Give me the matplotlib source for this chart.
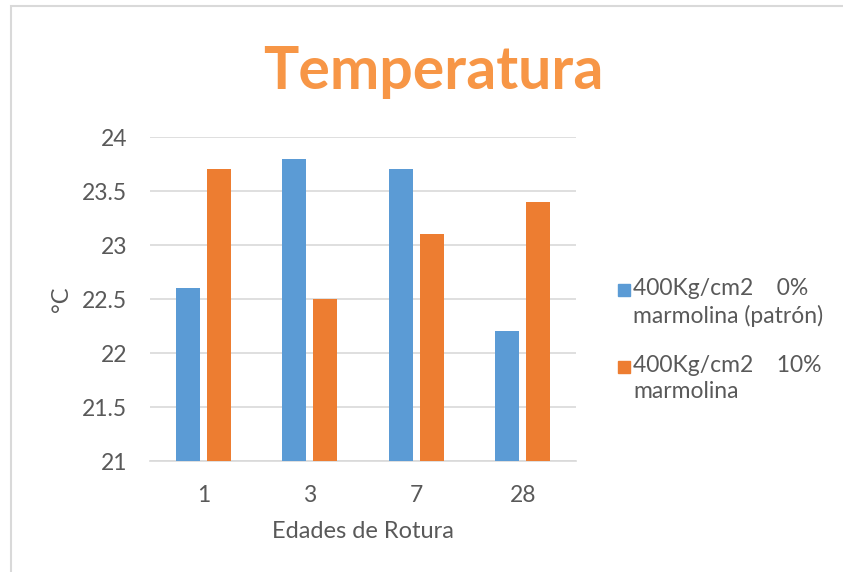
import matplotlib
matplotlib.use("Agg")
import matplotlib.pyplot as plt
import numpy as np
from matplotlib.patches import Rectangle

plt.rcParams['font.family'] = ['Lato', 'DejaVu Sans']

# data
edades = ["1", "3", "7", "28"]
patron = [22.6, 23.8, 23.7, 22.2]
marmolina10 = [23.7, 22.5, 23.1, 23.4]
serie_labels = ["400Kg/cm2    0%\nmarmolina (patrón)", "400Kg/cm2    10%\nmarmolina"]
yticks = [21, 21.5, 22, 22.5, 23, 23.5, 24]

c_blue = "#5B9BD5"
c_orange = "#ED7D31"
c_text = "#595959"
c_grid = "#D9D9D9"

W, H = 843, 572
fig = plt.figure(figsize=(W/100, H/100), dpi=100)

# chart frame
fig.add_artist(Rectangle((11/W, -0.05), 1.2, 1 - 6/H + 0.05, transform=fig.transFigure,
                         fill=False, ec=c_grid, lw=1.5))

ax = fig.add_axes([150/W, 1 - 461/H, (576-150)/W, (461-137)/H])
x = np.arange(len(edades))
w = 0.225
ax.bar(x - 0.145, np.array(patron) - 21, w, bottom=21, color=c_blue, zorder=3)
ax.bar(x + 0.145, np.array(marmolina10) - 21, w, bottom=21, color=c_orange, zorder=3)

ax.set_xlim(-0.5, len(edades) - 0.5)
ax.set_ylim(21, 24)
ax.set_yticks(yticks)
ax.set_yticklabels([("%g" % v) for v in yticks])
ax.set_xticks(x)
ax.set_xticklabels(edades)
ax.tick_params(length=0, labelsize=16.5, colors=c_text)
ax.tick_params(axis='y', pad=16.5)
ax.tick_params(axis='x', pad=17)
ax.grid(axis='y', color=c_grid, lw=1.2, zorder=0)
for s in ["top", "right", "left"]:
    ax.spines[s].set_visible(False)
ax.spines["bottom"].set_color(c_grid)
ax.spines["bottom"].set_linewidth(1.2)

ax.set_xlabel("Edades de Rotura", fontsize=17, color=c_text, labelpad=11)
ax.set_ylabel("°C", fontsize=17, color=c_text, labelpad=7)

fig.text(433/W, 1 - 72/H, "Temperatura", ha='center', va='center', fontsize=42.5,
         fontweight='bold', color="#F79646")

# legend
for i, (lab, col) in enumerate(zip(serie_labels, [c_blue, c_orange])):
    y0 = 290 + i * 77
    fig.add_artist(Rectangle((618/W, 1 - (y0 + 6)/H), 12/W, 12/H, transform=fig.transFigure,
                             color=col))
    fig.text(633/W, 1 - (y0 - 12)/H, lab, ha='left', va='top', fontsize=16.5,
             color=c_text, linespacing=1.3)

fig.savefig("out.png", dpi=100)
